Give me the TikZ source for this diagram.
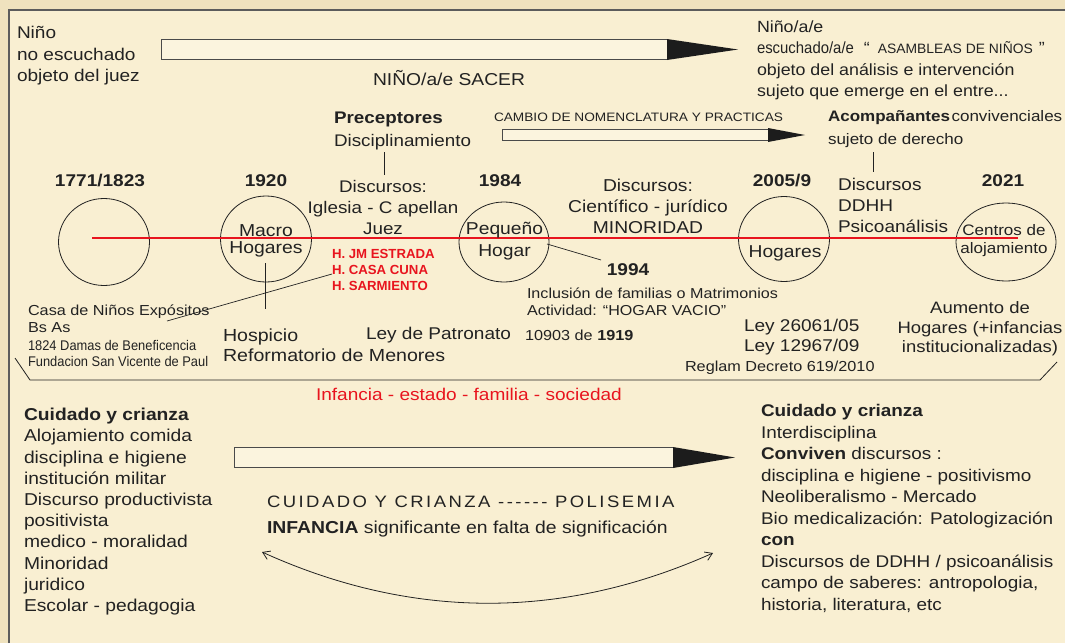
\documentclass[tikz,border=0pt]{standalone}
\usepackage{fontspec}
\setmainfont{Liberation Sans}[FakeStretch=1.12]
\newfontfamily\condf{Liberation Sans}[FakeStretch=0.92]
\newfontfamily\trf{Liberation Sans}[FakeStretch=1.1]
\newfontfamily\asmf{Liberation Sans}[FakeStretch=1.02]
\newfontfamily\plainf{Liberation Sans}
\newfontfamily\spacedf{Liberation Sans}[FakeStretch=1.12,LetterSpace=15]
\usetikzlibrary{arrows.meta}
\newcommand\myfs[2]{\fontsize{#1}{#2}\selectfont}
\definecolor{bgc}{HTML}{F9EFD2}
\definecolor{strip}{HTML}{EFE2BE}
\definecolor{ink}{HTML}{222222}
\definecolor{framec}{HTML}{5C5C5C}
\definecolor{redc}{HTML}{E8141E}
\definecolor{shaftfill}{HTML}{FBF4DE}
\definecolor{shaftline}{HTML}{4A4A4A}
\definecolor{headfill}{HTML}{1C1C1C}
\begin{document}
\begin{tikzpicture}[x=1pt,y=-1pt,
  txt/.style={inner sep=0pt,outer sep=0pt,text=ink,align=left,anchor=base west},
  ctxt/.style={inner sep=0pt,outer sep=0pt,text=ink,align=center,anchor=base},
  ring/.style={draw=ink,line width=0.8pt},
  link/.style={draw=ink,line width=0.7pt},
  shaft/.style={draw=shaftline,fill=shaftfill,line width=0.9pt},
  head/.style={fill=headfill,draw=none},
  yearlbl/.style={ctxt,font=\bfseries\myfs{17}{20}}]
\useasboundingbox (0,0) rectangle (1065,643);
% background and frame
\fill[strip] (0,0) rectangle (1065,643);
\fill[bgc] (9,10) rectangle (1065,643);
\draw[framec,line width=1.2pt] (9,643) -- (9,10) -- (1065,10);

% big arrows
\draw[shaft] (161,39) rectangle (667,59);
\fill[headfill] (667,39) -- (738,49.5) -- (667,60) -- cycle;
\draw[shaft] (502,129) rectangle (768,140);
\fill[headfill] (768,128) -- (805,135) -- (768,142) -- cycle;
\draw[shaft] (234,447) rectangle (673,467);
\fill[headfill] (673,447) -- (735,457.5) -- (673,468) -- cycle;

% circles
\draw[ring] (104,242) ellipse [x radius=45.5pt, y radius=43.5pt];
\draw[ring] (266,239) ellipse [x radius=45.5pt, y radius=43pt];
\draw[ring] (504,242) ellipse [x radius=45pt, y radius=40pt];
\draw[ring] (784,239) ellipse [x radius=45.5pt, y radius=42.5pt];
\draw[ring] (1006,242) ellipse [x radius=50pt, y radius=39pt];

% timeline
\coordinate (tlA) at (92,238);
\coordinate (tlB) at (1018,238);
\draw[redc,line width=2.6pt] (tlA) -- (tlB);

% top texts (base anchor = baseline of last line)
\node[txt,font=\myfs{17}{21.7}] (tl) at (17,81.7) {Niño\\no escuchado\\objeto del juez};
\node[txt,font=\myfs{17.2}{20}] (sacer) at (373,85) {NIÑO/a/e SACER};
\node[txt,font=\trf\myfs{16.2}{21.5}] (tr) at (757,96.8) {Niño/a/e\\{\condf escuchado/a/e}\hspace{10pt}“\hspace{8pt}{\asmf\myfs{13.6}{13}ASAMBLEAS DE NIÑOS}\hspace{6pt}”\\objeto del análisis e intervención\\sujeto que emerge en el entre...};
\node[txt,font=\myfs{16.8}{23.4}] (prec) at (334,146.7) {\textbf{Preceptores}\\Disciplinamiento};
\node[txt,font=\myfs{12.2}{14}] (cambio) at (494,121.7) {CAMBIO DE NOMENCLATURA Y PRACTICAS};
\node[txt,font=\myfs{15.2}{22.3}] (acomp) at (828,144) {\textbf{Acompañantes}\hspace{1.5pt}convivenciales\\sujeto de derecho};

% years
\node[yearlbl] (y1771) at (100,186) {1771/1823};
\node[yearlbl] (y1920) at (266,186) {1920};
\node[yearlbl] (y1984) at (500,186.7) {1984};
\node[yearlbl] (y2005) at (782,186) {2005/9};
\node[yearlbl] (y2021) at (1003,186) {2021};

% discourses
\node[ctxt,font=\myfs{16.8}{21}] (disc1) at (383,234.3) {Discursos:\\Iglesia - C apellan\\Juez};
\node[ctxt,font=\myfs{17.2}{21.2}] (disc2) at (648,233.4) {Discursos:\\Científico - jurídico\\MINORIDAD};
\node[txt,font=\myfs{17}{21.2}] (disc3) at (838,232.4) {Discursos\\DDHH\\Psicoanálisis};

% circle labels
\node[ctxt,font=\myfs{17.3}{17.3}] (macro) at (266,253.3) {Macro\\Hogares};
\node[ctxt,font=\myfs{17.2}{22}] (peq) at (504.5,256) {Pequeño\\Hogar};
\node[ctxt,font=\myfs{17.2}{20}] (hog3) at (785,257.3) {Hogares};
\node[ctxt,font=\myfs{15.2}{18.3}] (centros) at (1004,253.3) {Centros de\\alojamiento};

% red homes
\node[txt,text=redc,font=\plainf\bfseries\myfs{13.2}{16.2}] (homes) at (332,290.7) {H. JM ESTRADA\\H. CASA CUNA\\H. SARMIENTO};

% lower timeline texts
\node[txt,font=\myfs{14.5}{17.3}] (casa) at (28,332.3) {Casa de Niños Expósitos\\Bs As};
\node[txt,font=\condf\myfs{14}{16.7}] (damas) at (28,366.7) {1824 Damas de Beneficencia\\Fundacion San Vicente de Paul};
\node[txt,font=\myfs{17.5}{20}] (hosp) at (223,361.7) {Hospicio\\Reformatorio de Menores};
\node[txt,font=\myfs{17}{20}] (patron) at (366,339.3) {Ley de Patronato};
\node[txt,font=\myfs{14.5}{17}] (ley10903) at (525,340) {10903 de \textbf{1919}};
\node[ctxt,font=\bfseries\myfs{17}{20}] (y1994) at (628,275.7) {1994};
\node[txt,font=\myfs{14.4}{17.4}] (incl) at (527,315.7) {Inclusión de familias o Matrimonios\\Actividad: “HOGAR VACIO”};
\node[txt,font=\myfs{17}{20}] (ley26) at (744,351) {Ley 26061/05\\Ley 12967/09};
\node[txt,font=\myfs{14.5}{17}] (reglam) at (685,371.7) {Reglam Decreto 619/2010};
\node[ctxt,font=\myfs{16.5}{19.7}] (aumento) at (980,352.7) {Aumento de\\Hogares (+infancias\\institucionalizadas)};

% connectors
\coordinate (precT) at (384,152);
\coordinate (disc1T) at (384,175);
\draw[link] (precT) -- (disc1T);
\coordinate (acompT) at (873,152);
\coordinate (disc3T) at (873,172);
\draw[link] (acompT) -- (disc3T);
\coordinate (macroB) at (265,263);
\coordinate (hospT) at (265,309);
\draw[link] (macroB) -- (hospT);
\coordinate (casaR) at (167,321);
\coordinate (cunaW) at (332,274);
\draw[link] (casaR) -- (cunaW);
\coordinate (peqR) at (547,244);
\coordinate (y1994T) at (601,260);
\draw[link] (peqR) -- (y1994T);

% bracket
\coordinate (brA) at (15,358);
\coordinate (brB) at (30,380);
\coordinate (brC) at (1040,380);
\coordinate (brD) at (1057,362);
\draw[ink,line width=0.8pt] (brA) -- (brB) -- (brC) -- (brD);

\node[txt,text=redc,font=\myfs{17}{20}] (infred) at (316,400.7) {Infancia - estado - familia - sociedad};

% bottom lists
\node[txt,font=\myfs{17.2}{21.2}] (bl) at (24,611.5) {\textbf{Cuidado y crianza}\\Alojamiento comida\\disciplina e higiene\\institución militar\\Discurso productivista\\positivista\\medico - moralidad\\Minoridad\\juridico\\Escolar - pedagogia};
\node[txt,font=\myfs{16.9}{21.5}] (br) at (761,610.2) {\textbf{Cuidado y crianza}\\Interdisciplina\\\textbf{Conviven} discursos :\\disciplina e higiene - positivismo\\Neoliberalismo - Mercado\\Bio medicalización: Patologización\\\textbf{con}\\Discursos de DDHH / psicoanálisis\\campo de saberes: antropologia,\\historia, literatura, etc};

\node[txt,font=\spacedf\myfs{16.5}{20}] (cuid) at (267,507.7) {CUIDADO Y CRIANZA ------ POLISEMIA};
\node[txt,font=\myfs{17.3}{20}] (infanc) at (267,533.3) {\textbf{INFANCIA} significante en falta de significación};

% curved double arrow
\coordinate (cvL) at (262,552);
\coordinate (cvR) at (713,553);
\draw[ink,line width=0.8pt,{Straight Barb[length=7pt,width=9pt]}-{Straight Barb[length=7pt,width=9pt]}] (cvL) .. controls (412,620) and (563,620) .. (cvR);
\end{tikzpicture}
\end{document}
